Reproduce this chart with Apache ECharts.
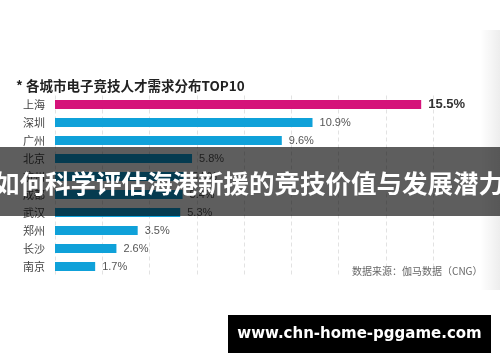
<!DOCTYPE html>
<html>
<head>
<meta charset="utf-8">
<script src="https://cdn.jsdelivr.net/npm/echarts@6/dist/echarts.min.js"></script>
<style>
html,body{margin:0;padding:0;background:#fff;}
#c{width:500px;height:362px;}
</style>
</head>
<body>
<div id="c"></div>
<script>
var cities = ['上海','深圳','广州','北京','杭州','成都','武汉','郑州','长沙','南京'];
var shares = [15.5, 10.9, 9.6, 5.8, 5.5, 5.4, 5.3, 3.5, 2.6, 1.7];
var titleText = '* 各城市电子竞技人才需求分布TOP10';
var sourceText = '数据来源：伽马数据（CNG）';
var bannerText = '如何科学评估海港新援的竞技价值与发展潜力';
var urlText = 'www.chn-home-pggame.com';

var chart = echarts.init(document.getElementById('c'), null, {renderer:'canvas'});
var data = shares.map(function(v, i){
  return {
    value: v,
    itemStyle: {color: i === 0 ? '#d5137a' : '#0fa1d9'},
    label: i === 0 ? {fontSize: 13, fontWeight: 'bold', color: '#333'} : {}
  };
});
chart.setOption({
  backgroundColor: '#fff',
  animation: false,
  title: {
    text: titleText, left: 11, top: 74,
    textStyle: {fontFamily: 'Noto Sans CJK SC', fontSize: 13.5, fontWeight: 'bold', color: '#222'}
  },
  grid: {left: 55, right: 67, top: 95.5, height: 180, containLabel: false},
  xAxis: {
    type: 'value', min: 0, max: 16, interval: 2,
    axisLabel: {show: false}, axisLine: {show: false}, axisTick: {show: false},
    splitLine: {show: true, lineStyle: {color: '#e2e2e2', type: [4, 3], width: 1}}
  },
  yAxis: {
    type: 'category', data: cities, inverse: true,
    axisLine: {show: false}, axisTick: {show: false},
    axisLabel: {fontFamily: 'Noto Sans CJK SC', fontSize: 11, color: '#444', margin: 10}
  },
  series: [{
    type: 'bar', data: data, barWidth: 9,
    label: {
      show: true, position: 'right', distance: 7,
      fontFamily: 'Liberation Sans, Arial, sans-serif', fontSize: 11, color: '#555',
      formatter: function(p){ return p.value.toFixed(1) + '%'; }
    }
  }],
  graphic: [
    {type: 'text', left: 352, top: 266, z: 50,
     style: {text: sourceText, fontFamily: 'Noto Sans CJK SC', fontSize: 10, fill: '#666'}},
    {type: 'rect', left: 480, top: 30, z: 60,
     shape: {width: 20, height: 260},
     style: {fill: new echarts.graphic.LinearGradient(0,0,1,0,[{offset:0,color:'rgba(0,0,0,0)'},{offset:1,color:'rgba(0,0,0,0.07)'}])}},
    {type: 'rect', left: 0, top: 147, z: 100,
     shape: {width: 500, height: 69},
     style: {fill: 'rgba(0,0,0,0.63)'}},
    {type: 'text', x: 249, y: 183, z: 101,
     style: {text: bannerText, fontFamily: 'Noto Sans CJK SC', fontSize: 25.5, fontWeight: 'bold', fill: '#fff',
             align: 'center', verticalAlign: 'middle',
             shadowColor: 'rgba(0,0,0,0.5)', shadowBlur: 2}},
    {type: 'rect', left: 228, top: 315, z: 100,
     shape: {width: 263, height: 38},
     style: {fill: '#000'}},
    {type: 'text', x: 359.5, y: 334, z: 101,
     style: {text: urlText, fontFamily: 'DejaVu Sans', fontSize: 15, fontWeight: 'bold', fill: '#fff',
             align: 'center', verticalAlign: 'middle'}}
  ]
});
</script>
</body>
</html>
